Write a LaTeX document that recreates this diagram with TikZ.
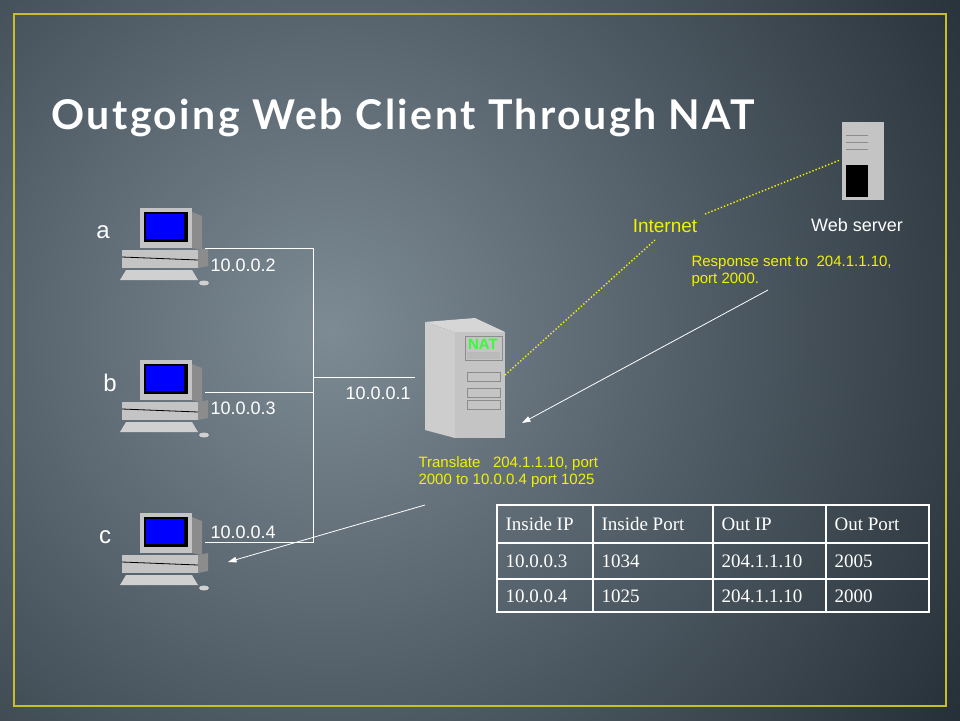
\documentclass[tikz,border=0pt]{standalone}
\usepackage{fontspec}
\setmainfont{Liberation Sans}
\newfontfamily\titlefont[LetterSpace=6]{Lato}
\newfontfamily\tablefont{Liberation Serif}
\usetikzlibrary{arrows.meta, positioning, calc}
\definecolor{bgcenter}{HTML}{7D8B95}
\definecolor{bgedge}{HTML}{1E2830}
\definecolor{framegold}{HTML}{C8BE2A}
\definecolor{labelyellow}{HTML}{F2F200}
\definecolor{boxgray}{HTML}{C4C4C4}
\definecolor{boxdark}{HTML}{8C8C8C}
\definecolor{screenblue}{HTML}{0000FF}
\definecolor{natgreen}{HTML}{33FF33}

\tikzset{
    pc/.pic={
        % monitor
        \fill[boxgray] (0,0) rectangle (52,40);
        \fill[boxdark] (52,4) -- (62,8) -- (62,42) -- (52,40) -- cycle;
        \fill[black] (4,4) rectangle (48,34);
        \fill[screenblue] (6,6) rectangle (44,31);
        % base
        \fill[boxgray] (-18,42) rectangle (58,60);
        \fill[boxdark] (58,42) -- (68,40) -- (68,58) -- (58,60) -- cycle;
        \draw[black, line width=0.8pt] (-18,49) -- (58,52);
        % keyboard and mouse
        \fill[boxgray!80] (-14,62) -- (52,62) -- (58,72) -- (-20,72) -- cycle;
        \fill[boxgray!80] (64,75) ellipse (5 and 2.5);
    }
}

\begin{document}
\begin{tikzpicture}[
    x=1pt, y=-1pt,
    every node/.style={font=\fontsize{18}{20}\selectfont, text=white},
    addr/.style={anchor=west},
    note/.style={text=labelyellow, align=left, anchor=north west,
        font=\fontsize{15}{17}\selectfont},
    wire/.style={draw=white, line width=0.8pt},
    link/.style={draw=labelyellow, line width=1.4pt, dotted},
    whitearrow/.style={-{Triangle[length=3mm, width=2mm]}, draw=white, line width=0.8pt},
    cell/.style={anchor=west, font=\tablefont\fontsize{19}{21}\selectfont}
]

% background and frame
\useasboundingbox (0,0) rectangle (960,720);
\begin{scope}
\clip (0,0) rectangle (960,720);
\shade[inner color=bgcenter, outer color=bgedge] (-470,-470) rectangle (1130,1130);
\end{scope}
\draw[framegold, line width=2pt] (14,14) rectangle (946,706);

% title
\node[anchor=west, font=\titlefont\bfseries\fontsize{41}{45}\selectfont] (title) at (48,118) {Outgoing Web Client Through NAT};

% clients
\pic at (140,208) {pc};
\pic at (140,360) {pc};
\pic at (140,513) {pc};
\node[font=\fontsize{24}{26}\selectfont] (a) at (103,232) {a};
\node[font=\fontsize{24}{26}\selectfont] (b) at (110,383) {b};
\node[font=\fontsize{24}{26}\selectfont] (c) at (105,537) {c};
\coordinate (pa) at (205,248);
\coordinate (pb) at (205,392);
\coordinate (pc) at (205,542);
\node[addr] (ipa) at (207,265) {10.0.0.2};
\node[addr] (ipb) at (207,408) {10.0.0.3};
\node[addr] (ipc) at (207,532) {10.0.0.4};

% LAN wiring
\coordinate (bus) at (313,377);
\coordinate (natin) at (415,377);
\draw[wire] (pa) -| (313,542) -- (pc);
\draw[wire] (pb) -- (313,392);
\draw[wire] (bus) -- (natin);
\node[addr] (ipnat) at (342,393) {10.0.0.1};

% NAT box
\fill[boxgray!85] (425,322) -- (455,332) -- (455,438) -- (425,430) -- cycle;
\fill[boxgray] (455,332) rectangle (505,438);
\fill[boxgray!70] (425,322) -- (475,318) -- (505,332) -- (455,332) -- cycle;
\draw[boxdark] (465,336) rectangle (502,360);
\fill[boxdark!60] (467,352) rectangle (500,359);
\node[text=natgreen, font=\bfseries\fontsize{15}{16}\selectfont] (natlabel) at (483,344) {NAT};
\foreach \y in {372,388,400} \draw[boxdark] (467,\y) rectangle (500,\y+9);
\coordinate (natout) at (505,375);
\coordinate (natfront) at (522,423);

% web server
\fill[boxgray] (842,122) rectangle (884,200);
\fill[black] (846,165) rectangle (868,197);
\foreach \y in {135,142,149} \draw[boxdark] (846,\y) -- (868,\y);
\coordinate (srv) at (840,160);
\node (websrv) at (857,225) {Web server};

% internet links
\node[text=labelyellow, font=\fontsize{19}{21}\selectfont] (inet) at (665,226) {Internet};
\draw[link] (natout) -- (655,240);
\draw[link] (705,214) -- (srv);

% notes and arrows
\node[note] (resp) at (688,252) {Response sent to\ \ 204.1.1.10,\\port 2000.};
\node[note] (trans) at (415,453) {Translate\ \ \ 204.1.1.10, port\\2000 to 10.0.0.4 port 1025};
\draw[whitearrow] (768,290) -- (natfront);
\draw[whitearrow] (425,505) -- (228,562);

% translation table
\draw[white, line width=1.5pt] (497,505) rectangle (929,612);
\foreach \x in {593,713,826} \draw[white, line width=1.2pt] (\x,505) -- (\x,612);
\foreach \y in {543,579} \draw[white, line width=1.2pt] (497,\y) -- (929,\y);
\node[cell] (h1) at (502,524) {Inside IP};
\node[cell] (h2) at (598,524) {Inside Port};
\node[cell] (h3) at (718,524) {Out IP};
\node[cell] (h4) at (831,524) {Out Port};
\node[cell] (r1a) at (502,561) {10.0.0.3};
\node[cell] (r1b) at (598,561) {1034};
\node[cell] (r1c) at (718,561) {204.1.1.10};
\node[cell] (r1d) at (831,561) {2005};
\node[cell] (r2a) at (502,596) {10.0.0.4};
\node[cell] (r2b) at (598,596) {1025};
\node[cell] (r2c) at (718,596) {204.1.1.10};
\node[cell] (r2d) at (831,596) {2000};

\end{tikzpicture}
\end{document}
